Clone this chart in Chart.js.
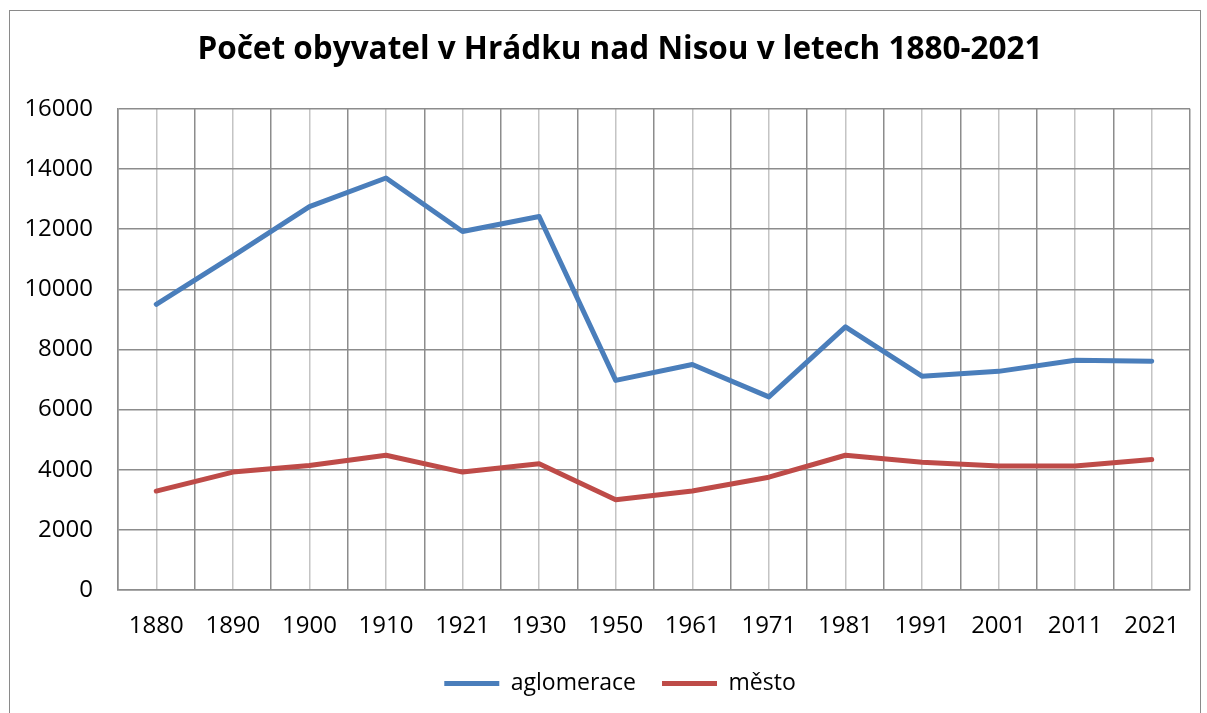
<!DOCTYPE html>
<html>
<head>
<meta charset="utf-8">
<script src="https://cdn.jsdelivr.net/npm/chart.js@4"></script>
<style>
  html, body { margin: 0; padding: 0; background: #fff; }
  #ramecek { position: absolute; left: 9px; top: 10px; width: 1190px; height: 720px; border: 1.5px solid #8a8a8a; }
  #obal { position: absolute; left: 0; top: 0; width: 1207px; height: 713px; }
</style>
</head>
<body>
<div id="ramecek"></div>
<div id="obal"><canvas id="graf"></canvas></div>
<script>
const roky = ['1880', '1890', '1900', '1910', '1921', '1930', '1950', '1961', '1971', '1981', '1991', '2001', '2011', '2021'];
const aglomerace = [9500, 11100, 12750, 13700, 11920, 12420, 6970, 7500, 6420, 8750, 7110, 7270, 7640, 7610];
const mesto = [3290, 3920, 4140, 4480, 3920, 4200, 3000, 3290, 3750, 4480, 4250, 4120, 4120, 4340];
const nazvy = ['aglomerace', 'město'];
const barvy = ['#4a7ebb', '#be4b48'];
const pismo = "'Open Sans', 'Noto Sans', sans-serif";

// popisky osy y sahaji az k levemu okraji, at je neorizne
const uvolniOsuY = {
    id: 'uvolniOsuY',
    afterLayout(chart) {
        chart.scales.y.left = 0;
    }
};

let config = {
    type: 'line',
    data: {
        labels: roky,
        datasets: [
            { label: nazvy[0], data: aglomerace, borderColor: barvy[0], backgroundColor: barvy[0], borderWidth: 5 },
            { label: nazvy[1], data: mesto, borderColor: barvy[1], backgroundColor: barvy[1], borderWidth: 5 }
        ]
    },
    options: {
        responsive: false,
        animation: false,
        layout: { padding: { left: 50, right: 17, top: 0, bottom: 8 } },
        elements: {
            line: { tension: 0, borderCapStyle: 'round', borderJoinStyle: 'round' },
            point: { radius: 0, pointStyle: 'line' }
        },
        plugins: {
            title: {
                display: true,
                text: 'Počet obyvatel v Hrádku nad Nisou v letech 1880-2021',
                color: '#000',
                font: { family: pismo, size: 31.5, weight: 'bold' },
                padding: { top: 31, bottom: 40 }
            },
            legend: {
                position: 'bottom',
                labels: {
                    color: '#000',
                    font: { family: pismo, size: 23 },
                    usePointStyle: true,
                    pointStyleWidth: 55,
                    padding: 26
                }
            },
            tooltip: { enabled: false }
        },
        scales: {
            x: {
                offset: true,
                grid: { offset: true, color: '#8c8c8c', lineWidth: 1.5, drawTicks: false },
                border: { color: '#8c8c8c', width: 1.5 },
                ticks: { color: '#000', font: { family: pismo, size: 24 }, padding: 22, maxRotation: 0 },
                afterFit: s => {
                    s.height = 713 - 8 - s.chart.legend.height - 590;
                }
            },
            x2: {
                type: 'category',
                labels: roky,
                position: 'bottom',
                offset: true,
                grid: { offset: false, color: '#c4c4c4', lineWidth: 1.5, drawTicks: false },
                border: { display: false },
                ticks: { display: false },
                afterFit: s => { s.height = 0; }
            },
            y: {
                min: 0,
                max: 16000,
                grid: { color: '#8c8c8c', lineWidth: 1.5, drawTicks: false },
                border: { color: '#8c8c8c', width: 1.5 },
                ticks: {
                    stepSize: 2000,
                    color: '#000',
                    font: { family: pismo, size: 24 },
                    padding: 25,
                    callback: v => String(v)
                },
                afterFit: s => { s.width = 68; }
            }
        }
    },
    plugins: [uvolniOsuY]
};

let ctx = document.getElementById('graf');
ctx.width = 1207;
ctx.height = 713;
window.graf = new Chart(ctx, config);
</script>
</body>
</html>
